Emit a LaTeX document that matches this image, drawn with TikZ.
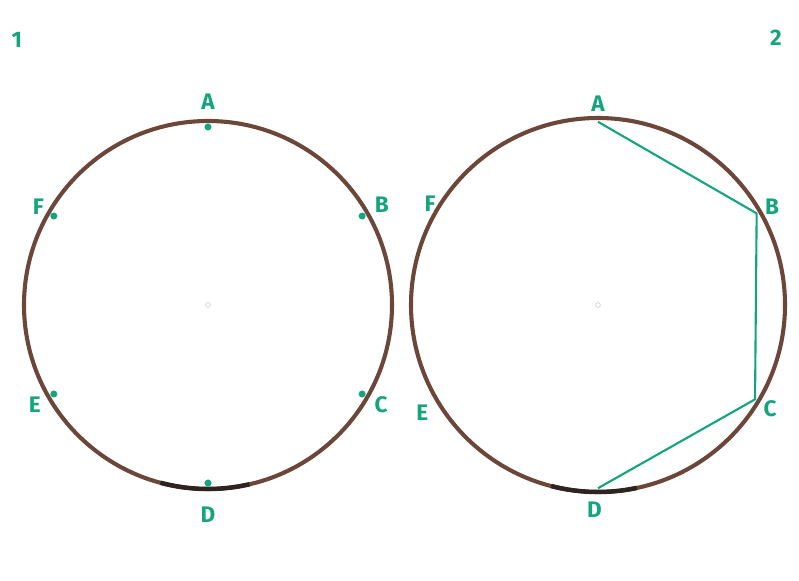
\documentclass[tikz,border=0pt]{standalone}
\usepackage{fontspec}
\setmainfont{Fira Sans}

\definecolor{inkbrown}{RGB}{108,70,56}
\definecolor{inkgreen}{RGB}{20,165,125}
\definecolor{inkdark}{RGB}{45,35,32}

\tikzset{
  rim/.style={line width=2.9pt, inkbrown},
  rimdark/.style={line width=3.2pt, inkdark},
  lbl/.style={inkgreen, font=\fontsize{16}{18}\selectfont\bfseries},
  dot/.style={circle, fill=inkgreen, inner sep=0pt, minimum size=5pt},
  chord/.style={line width=1.5pt, inkgreen, line join=round},
  hub/.style={gray!45, line width=0.4pt}
}

\begin{document}
\begin{tikzpicture}
  \useasboundingbox (0,0) rectangle (19.975,14.525);

  % Figure numbers
  \node[lbl] (num1) at (0.42,13.52) {1};
  \node[lbl] (num2) at (19.40,13.57) {2};

  % Circle 1: six marked points
  \coordinate (o1) at (5.2,6.9);
  \draw[rim] (o1) circle (4.6);
  \draw[rimdark] ([shift={(255:4.6)}]o1) arc (255:283:4.6);
  \draw[hub] (o1) circle (0.06);
  \foreach \n/\a/\r in {A/90/5.07, B/30/5.02, C/-30/5.0, D/-90/5.25, E/210/5.0, F/150/4.9}
  {
    \node[dot] (p1\n) at ([shift={(\a:4.45)}]o1) {};
    \node[lbl] (l1\n) at ([shift={(\a:\r)}]o1) {\n};
  }

  % Circle 2: chords A-B-C-D
  \coordinate (o2) at (14.95,6.9);
  \draw[rim] (o2) circle (4.675);
  \draw[rimdark] ([shift={(255.5:4.675)}]o2) arc (255.5:282:4.675);
  \draw[hub] (o2) circle (0.06);
  \foreach \n/\a in {A/90, B/30, C/-31, D/-90}
    \coordinate (p2\n) at ([shift={(\a:4.58)}]o2);
  \foreach \n/\a/\r in {A/90/5.02, B/29.5/5.0, C/-31/5.02, D/-91/5.12, E/211.5/5.15, F/149/4.9}
    \node[lbl] (l2\n) at ([shift={(\a:\r)}]o2) {\n};
  \draw[chord] (p2A) -- (p2B) -- (p2C) -- (p2D);
\end{tikzpicture}
\end{document}
